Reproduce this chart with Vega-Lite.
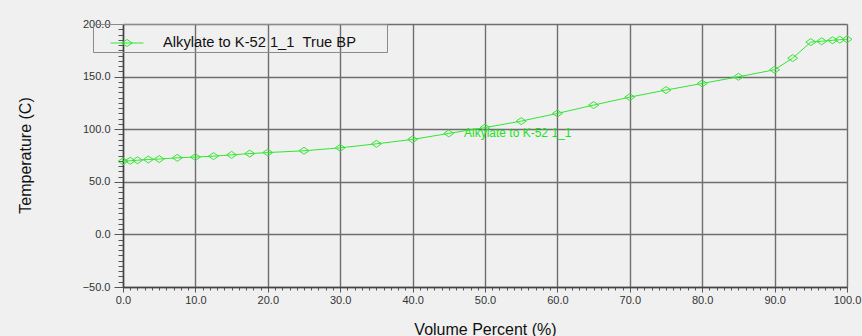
{
  "$schema": "https://vega.github.io/schema/vega-lite/v6.json",
  "autosize": "none",
  "width": 724,
  "height": 263,
  "padding": {"left": 123, "top": 24, "right": 15, "bottom": 49},
  "background": "#f0f0f0",
  "config": {
    "view": {"stroke": null},
    "font": "Liberation Sans"
  },
  "datasets": {
    "tbp": [
      {"vol": 0, "temp": 69.5, "series": "Alkylate to K-52 1_1\u00a0\u00a0True BP"},
      {"vol": 1, "temp": 70.0, "series": "Alkylate to K-52 1_1\u00a0\u00a0True BP"},
      {"vol": 2, "temp": 70.5, "series": "Alkylate to K-52 1_1\u00a0\u00a0True BP"},
      {"vol": 3.5, "temp": 71.2, "series": "Alkylate to K-52 1_1\u00a0\u00a0True BP"},
      {"vol": 5, "temp": 71.6, "series": "Alkylate to K-52 1_1\u00a0\u00a0True BP"},
      {"vol": 7.5, "temp": 72.8, "series": "Alkylate to K-52 1_1\u00a0\u00a0True BP"},
      {"vol": 10, "temp": 73.5, "series": "Alkylate to K-52 1_1\u00a0\u00a0True BP"},
      {"vol": 12.5, "temp": 74.4, "series": "Alkylate to K-52 1_1\u00a0\u00a0True BP"},
      {"vol": 15, "temp": 75.6, "series": "Alkylate to K-52 1_1\u00a0\u00a0True BP"},
      {"vol": 17.5, "temp": 76.8, "series": "Alkylate to K-52 1_1\u00a0\u00a0True BP"},
      {"vol": 20, "temp": 77.8, "series": "Alkylate to K-52 1_1\u00a0\u00a0True BP"},
      {"vol": 25, "temp": 79.5, "series": "Alkylate to K-52 1_1\u00a0\u00a0True BP"},
      {"vol": 30, "temp": 82.3, "series": "Alkylate to K-52 1_1\u00a0\u00a0True BP"},
      {"vol": 35, "temp": 86.1, "series": "Alkylate to K-52 1_1\u00a0\u00a0True BP"},
      {"vol": 40, "temp": 90.3, "series": "Alkylate to K-52 1_1\u00a0\u00a0True BP"},
      {"vol": 45, "temp": 96.0, "series": "Alkylate to K-52 1_1\u00a0\u00a0True BP"},
      {"vol": 50, "temp": 101.5, "series": "Alkylate to K-52 1_1\u00a0\u00a0True BP"},
      {"vol": 55, "temp": 107.7, "series": "Alkylate to K-52 1_1\u00a0\u00a0True BP"},
      {"vol": 60, "temp": 115.0, "series": "Alkylate to K-52 1_1\u00a0\u00a0True BP"},
      {"vol": 65, "temp": 122.9, "series": "Alkylate to K-52 1_1\u00a0\u00a0True BP"},
      {"vol": 70, "temp": 130.5, "series": "Alkylate to K-52 1_1\u00a0\u00a0True BP"},
      {"vol": 75, "temp": 137.2, "series": "Alkylate to K-52 1_1\u00a0\u00a0True BP"},
      {"vol": 80, "temp": 143.5, "series": "Alkylate to K-52 1_1\u00a0\u00a0True BP"},
      {"vol": 85, "temp": 149.8, "series": "Alkylate to K-52 1_1\u00a0\u00a0True BP"},
      {"vol": 90, "temp": 156.5, "series": "Alkylate to K-52 1_1\u00a0\u00a0True BP"},
      {"vol": 92.5, "temp": 167.6, "series": "Alkylate to K-52 1_1\u00a0\u00a0True BP"},
      {"vol": 95, "temp": 182.8, "series": "Alkylate to K-52 1_1\u00a0\u00a0True BP"},
      {"vol": 96.5, "temp": 183.6, "series": "Alkylate to K-52 1_1\u00a0\u00a0True BP"},
      {"vol": 98, "temp": 184.5, "series": "Alkylate to K-52 1_1\u00a0\u00a0True BP"},
      {"vol": 99, "temp": 185.1, "series": "Alkylate to K-52 1_1\u00a0\u00a0True BP"},
      {"vol": 100, "temp": 185.5, "series": "Alkylate to K-52 1_1\u00a0\u00a0True BP"}
    ],
    "labels": [
      {"vol": 47.1, "temp": 92.2, "label": "Alkylate to K-52 1_1"}
    ]
  },
  "layer": [
    {
      "data": {"name": "tbp"},
      "mark": {"type": "line", "strokeWidth": 1, "clip": false},
      "encoding": {
        "x": {
          "field": "vol", "type": "quantitative",
          "scale": {"domain": [0, 100], "nice": false, "zero": false},
          "axis": {
            "title": "Volume Percent (%)",
            "values": [0,1,2,3,4,5,6,7,8,9,10,11,12,13,14,15,16,17,18,19,20,21,22,23,24,25,26,27,28,29,30,31,32,33,34,35,36,37,38,39,40,41,42,43,44,45,46,47,48,49,50,51,52,53,54,55,56,57,58,59,60,61,62,63,64,65,66,67,68,69,70,71,72,73,74,75,76,77,78,79,80,81,82,83,84,85,86,87,88,89,90,91,92,93,94,95,96,97,98,99,100],
            "tickCount": 500,
            "labelExpr": "datum.value % 10 === 0 ? format(datum.value, '.1f') : ''",
            "labelOverlap": false,
            "labelBound": false,
            "labelFlush": false,
            "labelFont": "Liberation Sans",
            "labelFontSize": 11,
            "labelColor": "#333333",
            "labelPadding": 2,
            "tickSize": {"condition": {"test": "datum.value % 10 === 0", "value": 5}, "value": 3},
            "tickColor": "#555555",
            "tickWidth": 1,
            "domainColor": "#444444",
            "domainWidth": 1.5,
            "grid": true,
            "gridColor": "#6e6e6e",
            "gridWidth": 1.4,
            "gridOpacity": {"condition": {"test": "datum.value % 10 === 0", "value": 1}, "value": 0},
            "titleFont": "Liberation Sans",
            "titleFontSize": 16,
            "titleFontWeight": "normal",
            "titleColor": "#111111",
            "titleBaseline": "alphabetic",
            "titleY": 47
          }
        },
        "y": {
          "field": "temp", "type": "quantitative",
          "scale": {"domain": [-50, 200], "nice": false, "zero": false},
          "axis": {
            "title": "Temperature (C)",
            "values": [-50,-45,-40,-35,-30,-25,-20,-15,-10,-5,0,5,10,15,20,25,30,35,40,45,50,55,60,65,70,75,80,85,90,95,100,105,110,115,120,125,130,135,140,145,150,155,160,165,170,175,180,185,190,195,200],
            "tickCount": 500,
            "labelExpr": "datum.value % 50 === 0 ? format(datum.value, '.1f') : ''",
            "labelOverlap": false,
            "labelBound": false,
            "labelFlush": false,
            "labelFont": "Liberation Sans",
            "labelFontSize": 11,
            "labelColor": "#333333",
            "labelPadding": 4,
            "tickSize": {"condition": {"test": "datum.value % 50 === 0", "value": 9}, "value": 5},
            "tickColor": "#555555",
            "tickWidth": 1,
            "domainColor": "#444444",
            "domainWidth": 1.5,
            "grid": true,
            "gridColor": "#6e6e6e",
            "gridWidth": 1.4,
            "gridOpacity": {"condition": {"test": "datum.value % 50 === 0", "value": 1}, "value": 0},
            "titleFont": "Liberation Sans",
            "titleFontSize": 16,
            "titleFontWeight": "normal",
            "titleColor": "#111111",
            "titleBaseline": "alphabetic",
            "titleAlign": "center",
            "titleAngle": -90,
            "titleX": -93,
            "titleY": 131
          }
        },
        "color": {
          "field": "series", "type": "nominal",
          "scale": {"range": ["#33e633"]},
          "legend": {
            "title": null,
            "orient": "none",
            "legendX": -30,
            "legendY": 0,
            "padding": 2,
            "strokeColor": "#8a8a8a",
            "symbolType": "M-1,0H1M-0.32,0L0,-0.21L0.32,0L0,0.21Z",
            "symbolSize": 1089,
            "symbolOffset": 15,
            "symbolStrokeWidth": 1,
            "symbolFillColor": "transparent",
            "labelFont": "Liberation Sans",
            "labelFontSize": 14.7,
            "labelColor": "#111111",
            "labelOffset": 19,
            "labelLimit": 400,
            "labelExpr": "datum.label + '\u00a0\u00a0\u00a0\u00a0\u00a0\u00a0\u00a0\u200b'"
          }
        }
      }
    },
    {
      "data": {"name": "tbp"},
      "mark": {"type": "point", "shape": "M-1,0L0,-0.7L1,0L0,0.7Z", "size": 100, "filled": false, "strokeWidth": 1, "color": "#33e633", "opacity": 1, "clip": false},
      "encoding": {
        "x": {"field": "vol", "type": "quantitative"},
        "y": {"field": "temp", "type": "quantitative"}
      }
    },
    {
      "data": {"name": "labels"},
      "mark": {"type": "text", "align": "left", "baseline": "alphabetic", "font": "Liberation Sans", "fontSize": 12, "color": "#22e022"},
      "encoding": {
        "x": {"field": "vol", "type": "quantitative"},
        "y": {"field": "temp", "type": "quantitative"},
        "text": {"field": "label"}
      }
    }
  ]
}
